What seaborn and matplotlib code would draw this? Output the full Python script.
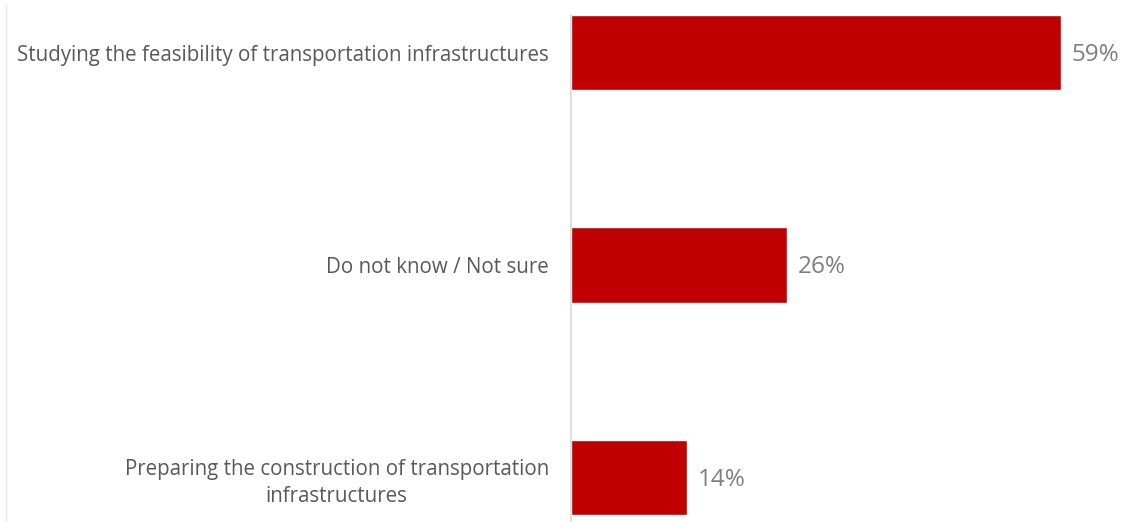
import matplotlib
matplotlib.use("Agg")
import matplotlib.pyplot as plt
import pandas as pd
import seaborn as sns
from matplotlib.lines import Line2D

categories = [
    "Studying the feasibility of transportation infrastructures",
    "Do not know / Not sure",
    "Preparing the construction of transportation\ninfrastructures",
]
values = [59, 26, 14]

df = pd.DataFrame({"category": categories, "value": values})

sns.set_theme(style="white")
plt.rcParams["font.family"] = ["Open Sans", "DejaVu Sans"]

fig = plt.figure(figsize=(11.26, 5.22), dpi=100)
ax = fig.add_axes([571 / 1126, 0.0, 1 - 571 / 1126, 1 - 15 / 522])

sns.barplot(data=df, x="value", y="category", orient="h", color="#C00000",
            width=0.353, saturation=1, ax=ax)

# top edge of the axes = top of first bar, bottom runs to figure edge
ax.set_ylim(2 + (522 - 477.5) / 212.5, -0.1765)
ax.set_xlim(0, 66.8)

for i, v in enumerate(values):
    ax.text(v + 1.3, i + 0.01, f"{v}%", va="center", ha="left",
            fontsize=17.5, color="#7F7F7F")

ax.set_xlabel("")
ax.set_ylabel("")
ax.set_xticks([])
ax.tick_params(axis="y", length=0, pad=16, labelsize=14.8, labelcolor="#595959")
for lbl in ax.get_yticklabels():
    lbl.set_horizontalalignment("right")
    lbl.set_multialignment("center")
    lbl.set_linespacing(1.36)

for side in ["top", "right", "bottom"]:
    ax.spines[side].set_visible(False)
ax.spines["left"].set_color("#D9D9D9")
ax.spines["left"].set_linewidth(1.2)

# faint frame line at the left edge of the picture
fig.add_artist(Line2D([6 / 1126, 6 / 1126], [0, 1 - 5 / 522],
                      color="#E6E6E6", linewidth=1))

fig.savefig("out.png", dpi=100)
